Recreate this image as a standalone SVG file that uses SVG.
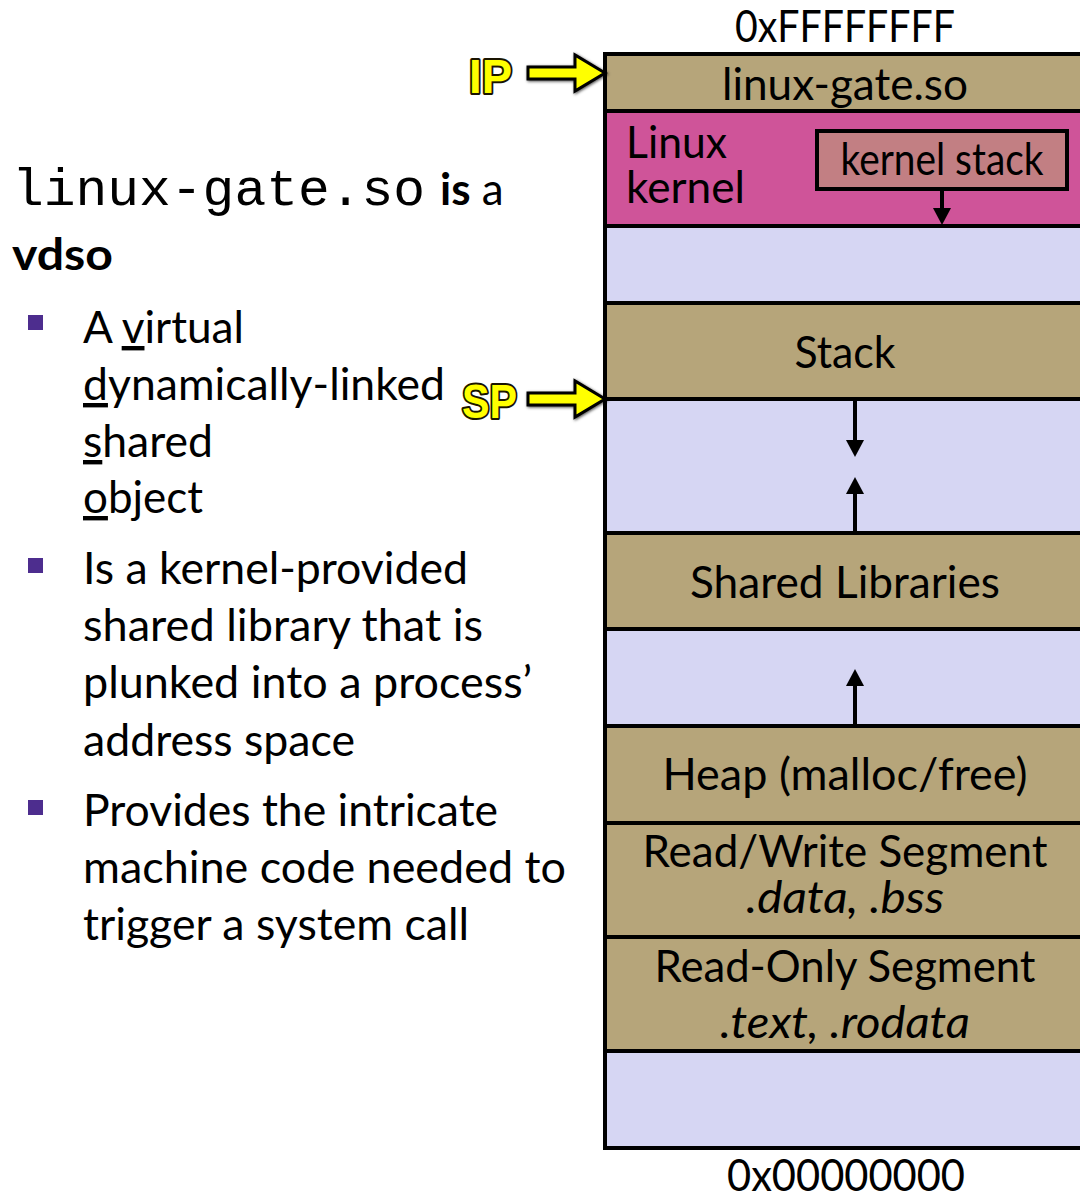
<svg xmlns="http://www.w3.org/2000/svg" width="1080" height="1196" viewBox="0 0 1080 1196">
<style>
.lbl{font-family:Lato,"Open Sans","Liberation Sans",sans-serif;font-size:44px;fill:#000}
.it{font-style:italic}
.body{font-family:Lato,"Open Sans","Liberation Sans",sans-serif;font-size:44px;fill:#000}
.mono{font-family:"Liberation Mono","Courier New",monospace;font-size:52px;fill:#000}
.tan{fill:#B6A57A;stroke:#000;stroke-width:4}
.lav{fill:#D6D6F3;stroke:#000;stroke-width:4}
.pink{fill:#CF5499;stroke:#000;stroke-width:4}
.conn{stroke:#000;stroke-width:4;fill:none}
.head{fill:#000}
.bul{fill:#4D2D8E}
.ptr{fill:#FFFF00;stroke:#000;stroke-width:3;stroke-linejoin:miter}
.ptrtxt{font-family:"Liberation Sans",Arial,sans-serif;font-weight:bold;font-size:48px;fill:#FFFF00;stroke:#1a1400;stroke-width:4;paint-order:stroke;stroke-linejoin:round}
</style>
<defs>
<filter id="sh" x="-20%" y="-40%" width="140%" height="180%">
<feDropShadow dx="1" dy="1" stdDeviation="1.5" flood-color="#000" flood-opacity="0.7"/>
</filter>
</defs>

<!-- left text -->
<g id="intro">
<text x="12" y="205" class="mono" textLength="413" lengthAdjust="spacingAndGlyphs">linux-gate.so</text>
<text x="440" y="205" class="body" font-size="46"><tspan font-weight="bold">is</tspan> a</text>
<text x="12" y="270" class="body" font-size="46" font-weight="bold" textLength="101" lengthAdjust="spacingAndGlyphs">vdso</text>
</g>
<g id="bullet1">
<rect x="28" y="315" width="15" height="15" class="bul"/>
<text x="83" y="343" class="body" textLength="161" lengthAdjust="spacingAndGlyphs">A <tspan text-decoration="underline">v</tspan>irtual</text>
<text x="83" y="400" class="body" textLength="362" lengthAdjust="spacingAndGlyphs"><tspan text-decoration="underline">d</tspan>ynamically-linked</text>
<text x="83" y="457" class="body" textLength="130" lengthAdjust="spacingAndGlyphs"><tspan text-decoration="underline">s</tspan>hared</text>
<text x="83" y="513" class="body" textLength="120" lengthAdjust="spacingAndGlyphs"><tspan text-decoration="underline">o</tspan>bject</text>
</g>
<g id="bullet2">
<rect x="28" y="558" width="15" height="15" class="bul"/>
<text x="83" y="584" class="body" textLength="385" lengthAdjust="spacingAndGlyphs">Is a kernel-provided</text>
<text x="83" y="641" class="body" textLength="400" lengthAdjust="spacingAndGlyphs">shared library that is</text>
<text x="83" y="698" class="body" textLength="449" lengthAdjust="spacingAndGlyphs">plunked into a process’</text>
<text x="83" y="756" class="body" textLength="272" lengthAdjust="spacingAndGlyphs">address space</text>
</g>
<g id="bullet3">
<rect x="28" y="800" width="15" height="15" class="bul"/>
<text x="83" y="826" class="body" textLength="415" lengthAdjust="spacingAndGlyphs">Provides the intricate</text>
<text x="83" y="883" class="body" textLength="483" lengthAdjust="spacingAndGlyphs">machine code needed to</text>
<text x="83" y="940" class="body" textLength="386" lengthAdjust="spacingAndGlyphs">trigger a system call</text>
</g>

<!-- memory column -->
<text id="addr-top" x="845" y="42" class="lbl" text-anchor="middle" textLength="220" lengthAdjust="spacingAndGlyphs">0xFFFFFFFF</text>
<g id="gate"><rect x="605" y="54" width="500" height="57" class="tan"/>
<text x="845" y="100" class="lbl" text-anchor="middle" textLength="246" lengthAdjust="spacingAndGlyphs">linux-gate.so</text></g>
<g id="kernel"><rect x="605" y="111" width="500" height="115" class="pink"/>
<text x="626" y="158" class="lbl" textLength="101" lengthAdjust="spacingAndGlyphs">Linux</text>
<text x="626" y="203" class="lbl" textLength="119" lengthAdjust="spacingAndGlyphs">kernel</text></g>
<g id="kstack"><rect x="817" y="131" width="250" height="58" fill="#C27F83" stroke="#000" stroke-width="4"/>
<text x="942" y="175" class="lbl" font-size="37" text-anchor="middle" textLength="203" lengthAdjust="spacingAndGlyphs">kernel stack</text></g>
<g id="gap1"><rect x="605" y="226" width="500" height="77" class="lav"/></g>
<g id="stack"><rect x="605" y="303" width="500" height="96" class="tan"/>
<text x="845" y="368" class="lbl" text-anchor="middle" textLength="101" lengthAdjust="spacingAndGlyphs">Stack</text></g>
<g id="gap2"><rect x="605" y="399" width="500" height="134" class="lav"/></g>
<g id="shlib"><rect x="605" y="533" width="500" height="96" class="tan"/>
<text x="845" y="598" class="lbl" text-anchor="middle" textLength="310" lengthAdjust="spacingAndGlyphs">Shared Libraries</text></g>
<g id="gap3"><rect x="605" y="629" width="500" height="97" class="lav"/></g>
<g id="heap"><rect x="605" y="726" width="500" height="97" class="tan"/>
<text x="845" y="790" class="lbl" text-anchor="middle" textLength="365" lengthAdjust="spacingAndGlyphs">Heap (malloc/free)</text></g>
<g id="rw"><rect x="605" y="823" width="500" height="114" class="tan"/>
<text x="845" y="867" class="lbl" text-anchor="middle" textLength="405" lengthAdjust="spacingAndGlyphs">Read/Write Segment</text>
<text x="845" y="913" class="lbl it" text-anchor="middle" textLength="198" lengthAdjust="spacingAndGlyphs">.data, .bss</text></g>
<g id="ro"><rect x="605" y="937" width="500" height="114" class="tan"/>
<text x="845" y="982" class="lbl" text-anchor="middle" textLength="381" lengthAdjust="spacingAndGlyphs">Read-Only Segment</text>
<text x="845" y="1038" class="lbl it" text-anchor="middle" textLength="250" lengthAdjust="spacingAndGlyphs">.text, .rodata</text></g>
<g id="gap4"><rect x="605" y="1051" width="500" height="97" class="lav"/></g>
<text id="addr-bot" x="846" y="1191" class="lbl" text-anchor="middle" textLength="238" lengthAdjust="spacingAndGlyphs">0x00000000</text>

<!-- connectors -->
<g id="connectors">
<line x1="942" y1="189" x2="942" y2="210" class="conn"/>
<polygon points="933,208 951,208 942,225" class="head"/>
<line x1="855" y1="401" x2="855" y2="443" class="conn"/>
<polygon points="846,440 864,440 855,457" class="head"/>
<line x1="855" y1="531" x2="855" y2="491" class="conn"/>
<polygon points="846,494 864,494 855,477" class="head"/>
<line x1="855" y1="724" x2="855" y2="683" class="conn"/>
<polygon points="846,686 864,686 855,669" class="head"/>
</g>

<!-- pointers -->
<g id="ip">
<path d="M528,67 L575,67 L575,55 L605,73 L575,91 L575,79 L528,79 Z" class="ptr" filter="url(#sh)"/>
<text x="469" y="93" class="ptrtxt" textLength="43" lengthAdjust="spacingAndGlyphs">IP</text>
</g>
<g id="sp">
<path d="M528,393 L575,393 L575,381 L605,399 L575,417 L575,405 L528,405 Z" class="ptr" filter="url(#sh)"/>
<text x="462" y="418" class="ptrtxt" textLength="55" lengthAdjust="spacingAndGlyphs">SP</text>
</g>
</svg>
